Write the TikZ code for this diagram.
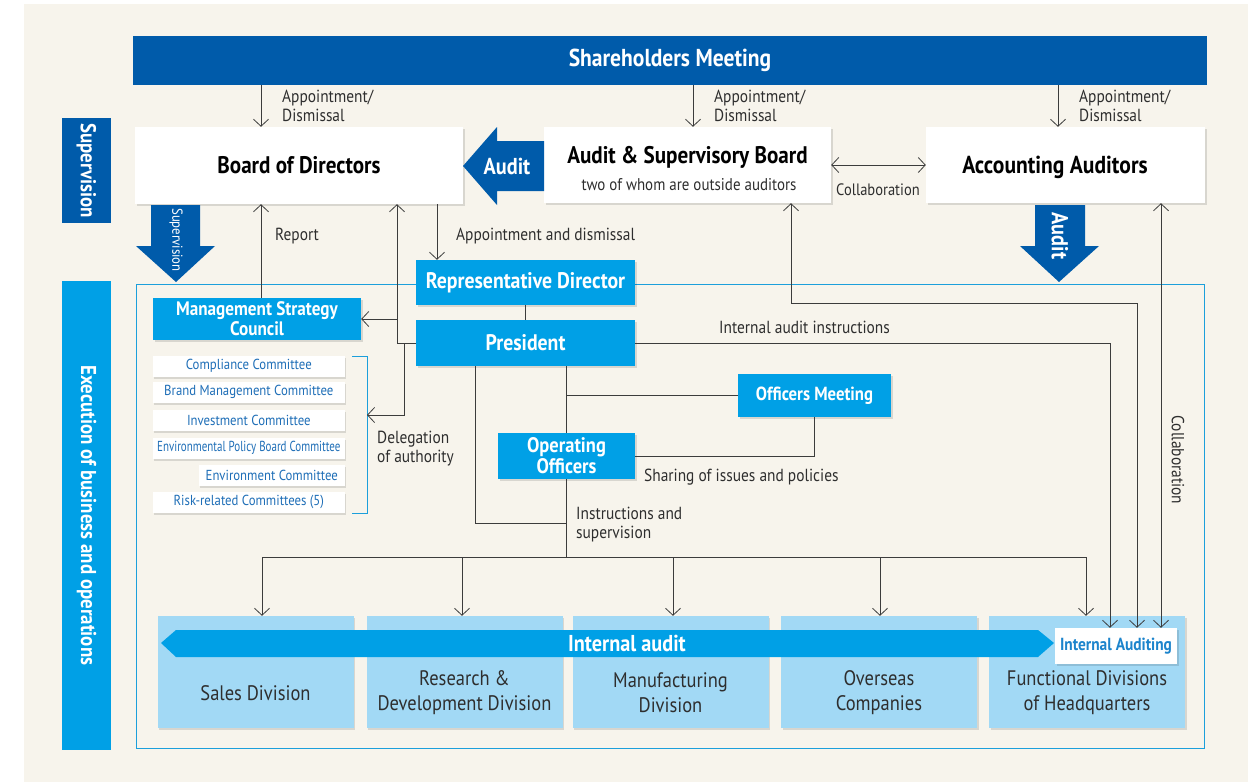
\documentclass[tikz,border=0pt]{standalone}
\usepackage{fontspec}
\setmainfont{PT Sans}[FakeStretch=0.88]
\usetikzlibrary{arrows.meta,shadows}
\definecolor{bgbeige}{HTML}{F7F4EC}
\definecolor{darkblue}{HTML}{005BAA}
\definecolor{midblue}{HTML}{00A0E6}
\definecolor{paleblue}{HTML}{A2D9F5}
\definecolor{textblue}{HTML}{1E6EB7}
\definecolor{iablue}{HTML}{1C84CC}
\definecolor{frameblue}{HTML}{1C9FDB}
\definecolor{linegray}{HTML}{3C3C3C}
\definecolor{labelgray}{HTML}{2E2E2E}
\tikzset{
  shadowed/.style={drop shadow={shadow xshift=1.5pt,shadow yshift=-2pt,opacity=0.12,fill=black}},
  whitebox/.style={fill=white, shadowed, inner sep=0pt, align=center, font=\bfseries\fontsize{24}{28}\selectfont},
  bluebox/.style={fill=midblue, text=white, shadowed, inner sep=0pt, align=center, font=\bfseries\fontsize{22.5}{23}\selectfont},
  sidebox/.style={text=white, inner sep=0pt, rotate=-90, minimum height=49pt, font=\bfseries\fontsize{21.5}{21}\selectfont},
  combox/.style={fill=white, text=textblue, shadowed, inner sep=0pt, minimum height=21pt, font=\fontsize{14.5}{14}\selectfont},
  divbox/.style={fill=paleblue, shadowed, inner sep=0pt, minimum width=196pt, minimum height=112pt},
  divtext/.style={align=center, text=labelgray, font=\fontsize{21}{25}\selectfont},
  lbl/.style={text=labelgray, align=left, inner sep=0pt, font=\fontsize{17.5}{19}\selectfont},
  link/.style={draw=linegray, line width=0.8pt},
  arr/.style={link, -{Straight Barb[length=7pt,width=15pt]}},
  arrs/.style={link, {Straight Barb[length=7pt,width=15pt]}-{Straight Barb[length=7pt,width=15pt]}},
}
\begin{document}
\begin{tikzpicture}[x=1pt, y=-1pt]
    \useasboundingbox (0,0) rectangle (1255,782);
    % Background
    \fill[white] (0,0) rectangle (1255,782);
    \fill[bgbeige] (24,4) rectangle (1248,782);
    % Side labels
    \node[sidebox, fill=darkblue, minimum width=105pt] (suplbl) at (86.5,170.5) {Supervision};
    \node[sidebox, fill=midblue, minimum width=469pt] (execlbl) at (86.5,515.5) {Execution of business and operations};
    % Execution frame
    \draw[frameblue, line width=1pt] (136,284) rectangle (1204,748);
    % Shareholders Meeting
    \node[fill=darkblue, text=white, inner sep=0pt, minimum width=1074pt, minimum height=49pt,
          font=\bfseries\fontsize{24.5}{24}\selectfont] (share) at (670,60.5) {Shareholders Meeting};
    % Supervision level
    \node[whitebox, minimum width=328pt, minimum height=77pt] (bod) at (299,165.5) {Board of Directors};
    \node[whitebox, minimum width=287pt, minimum height=76pt] (asb) at (687.5,165) {};
    \node[font=\bfseries\fontsize{24}{24}\selectfont] at (687.5,157) {Audit \& Supervisory Board};
    \node[text=labelgray, font=\fontsize{17}{17}\selectfont] at (689,185) {two of whom are outside auditors};
    \node[whitebox, minimum width=279pt, minimum height=76pt] (acc) at (1065.5,165) {};
    \node[font=\bfseries\fontsize{24.5}{24}\selectfont] at (1055,167) {Accounting Auditors};
    \foreach \x/\t in {261/bod,693/asb,1058/acc}{
        \draw[arr] (share.south -| \x,0) -- (\t.north -| \x,0);
        \node[lbl, anchor=west] at (\x+21,106) {Appointment/\\Dismissal};
    }
    % Block arrows
    \fill[darkblue] (463,166) -- (497,127) -- (497,141) -- (544,141) -- (544,191) -- (497,191) -- (497,205) -- cycle;
    \node[text=white, font=\bfseries\fontsize{23}{23}\selectfont] at (507,166) {Audit};
    \fill[darkblue] (151,205) -- (200,205) -- (200,246) -- (215,246) -- (176,282) -- (136,246) -- (151,246) -- cycle;
    \node[text=white, rotate=-90, font=\fontsize{14.5}{14}\selectfont] at (176,240) {Supervision};
    \fill[darkblue] (1035,205) -- (1085,205) -- (1085,246) -- (1099,246) -- (1059,282) -- (1020,246) -- (1035,246) -- cycle;
    \node[text=white, rotate=-90, font=\bfseries\fontsize{23}{23}\selectfont] at (1060,236) {Audit};
    \draw[arrs] (asb.east) -- (acc.west);
    \node[lbl, font=\fontsize{16.5}{17}\selectfont] at (878,190) {Collaboration};
    % Executive nodes
    \node[bluebox, minimum width=219pt, minimum height=45pt] (rep) at (525.5,282.5) {Representative Director};
    \node[bluebox, minimum width=219pt, minimum height=46pt] (pres) at (525.5,343) {President};
    \node[bluebox, minimum width=208pt, minimum height=42pt, font=\bfseries\fontsize{19.5}{20}\selectfont] (msc) at (257,319) {Management Strategy\\Council};
    \node[bluebox, minimum width=153pt, minimum height=43pt, font=\bfseries\fontsize{19}{19}\selectfont] (om) at (814.5,395.5) {Officers Meeting};
    \node[bluebox, minimum width=137pt, minimum height=46pt, font=\bfseries\fontsize{21}{21}\selectfont] (oo) at (566.5,456) {Operating\\Officers};
    \draw[link] (rep.south) -- (pres.north);
    % Committees
    \foreach \n/\y/\w/\t in {cc/366/192/Compliance Committee, bmc/392/192/Brand Management Committee,
                             ic/420/192/Investment Committee,
                             epb/448/192/{\scalebox{0.86}[1]{Environmental Policy Board Committee}},
                             ec/475/146/Environment Committee, rc/502/192/Risk-related Committees (5)}
        \node[combox, minimum width=\w pt, anchor=east] (\n) at (345,\y) {\t};
    \draw[frameblue, line width=1pt] (352,356) -- (367,356) -- (367,513) -- (352,513);
    \coordinate (brk) at (367,415);
    \node[lbl, anchor=west] at (377,449) {Delegation\\of authority};
    % Links around the board
    \draw[arr] ([xshift=4pt]msc.north) -- ([xshift=4pt]msc.north |- bod.south);
    \node[lbl, anchor=west] at (275,236) {Report};
    \draw[arr] (bod.south -| 437,0) -- (rep.north -| 437,0);
    \node[lbl, anchor=west] at (456,236) {Appointment and dismissal};
    \draw[arr] (pres.west) -- (pres.west -| 397,0) -- (bod.south -| 397,0);
    \draw[arr] (msc.east -| 397,0) -- (msc.east);
    \draw[arr] (pres.west -| 404,0) -- (brk -| 404,0) -- (brk);
    % Officers
    \draw[link] (pres.south -| oo.north) -- (oo.north);
    \draw[link] (om.west) -- (om.west -| oo.north);
    \draw[link] (oo.east) -| (om.south);
    \node[lbl, anchor=west] at (644,477) {Sharing of issues and policies};
    \draw[link] (pres.south -| 475,0) -- (475,523) -- (oo.south |- 0,523);
    \draw[link] (oo.south) -- (oo.south |- 0,557);
    \node[lbl, anchor=west] at (576,525) {Instructions and\\supervision};
    % Divisions
    \foreach \n/\x/\t in {sales/255.5/Sales Division, rnd/464.5/{Research \&\\Development Division},
                          mfg/670.5/{Manufacturing\\Division}, ovs/879/{Overseas\\Companies},
                          fun/1087/{Functional Divisions\\of Headquarters}}{
        \node[divbox] (\n) at (\x,672) {};
        \node[divtext] at (\x,693) {\t};
    }
    \draw[link] (262,557) -- (1086,557);
    \foreach \x/\d in {262/sales,462/rnd,673/mfg,880/ovs,1086/fun}
        \draw[arr] (\x,557) -- (\d.north -| \x,0);
    % Internal audit bar
    \fill[midblue] (161,643) -- (176,630) -- (1038,630) -- (1054,643) -- (1038,657) -- (176,657) -- cycle;
    \node[text=white, font=\bfseries\fontsize{23}{23}\selectfont] at (627,643) {Internal audit};
    \node[fill=white, text=iablue, shadowed, inner sep=0pt, minimum width=122pt, minimum height=36pt,
          font=\bfseries\fontsize{17.5}{17}\selectfont] (ia) at (1116,646) {Internal Auditing};
    % Audit links to Internal Auditing
    \draw[arr] (pres.east) -- (pres.east -| 1110,0) -- (ia.north -| 1110,0);
    \node[lbl, anchor=west] at (719,327) {Internal audit instructions};
    \draw[arrs] (asb.south -| 791,0) -- (791,303) -- (1137,303) -- (ia.north -| 1137,0);
    \draw[arrs] (acc.south -| 1161,0) -- (ia.north -| 1161,0);
    \node[lbl, rotate=-90] at (1178,460) {Collaboration};
\end{tikzpicture}
\end{document}
